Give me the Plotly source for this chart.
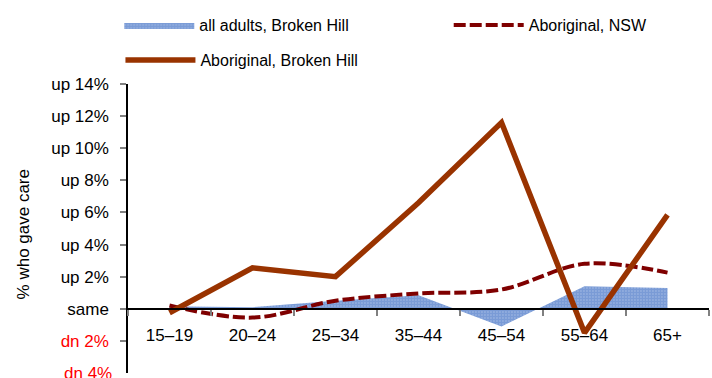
import plotly.graph_objects as go

age_groups = ["15–19", "20–24", "25–34", "35–44", "45–54", "55–64", "65+"]
all_adults_bh = [0.15, 0.1, 0.5, 0.85, -1.1, 1.4, 1.3]
aboriginal_nsw = [0.2, -0.55, 0.5, 0.95, 1.2, 2.8, 2.25]
aboriginal_bh = [-0.25, 2.55, 2.0, 6.6, 11.6, -1.5, 5.85]

tick_vals = [-4, -2, 0, 2, 4, 6, 8, 10, 12, 14]
tick_text = ["dn 4%", "dn 2%", "same", "up 2%", "up 4%", "up 6%", "up 8%", "up 10%", "up 12%", "up 14%"]
y_title = "% who gave care"

FONT = "Liberation Sans, Arial"
RED = "#FF0000"

# colour the "down" labels red
tick_labels = [f'<span style="color:{RED}">{t}</span>' if v < 0 else t
               for v, t in zip(tick_vals, tick_text)]

fig = go.Figure()
fig.add_trace(go.Scatter(
    x=age_groups, y=all_adults_bh, name="all adults, Broken Hill",
    mode="lines", line=dict(width=0, color="#4472C4"), fill="tozeroy",
    fillcolor="rgba(0,0,0,0)",
    fillpattern=dict(shape=".", fgcolor="#3F6DC2", bgcolor="#B5C8EA", size=3, solidity=0.8),
    legend="legend",
))
fig.add_trace(go.Scatter(
    x=age_groups, y=aboriginal_nsw, name="Aboriginal, NSW",
    mode="lines", line=dict(color="#7F0000", width=4, dash="12px,4px", shape="spline"),
    legend="legend2",
))
fig.add_trace(go.Scatter(
    x=age_groups, y=aboriginal_bh, name="Aboriginal, Broken Hill",
    mode="lines", line=dict(color="#993300", width=5.5),
    legend="legend3",
))

leg_common = dict(font=dict(family=FONT, size=16, color="#000000"), bgcolor="rgba(0,0,0,0)",
                  xref="paper", yref="container", yanchor="middle", xanchor="left",
                  itemwidth=70, borderwidth=0)

fig.update_layout(
    width=712, height=378,
    margin=dict(l=128, r=3, t=84, b=5, autoexpand=False),
    paper_bgcolor="white", plot_bgcolor="white",
    font=dict(family=FONT, size=17, color="#000000"),
    showlegend=True,
    legend=dict(x=-0.015, y=1 - 25 / 378, **leg_common),
    legend2=dict(x=0.552, y=1 - 25 / 378, **leg_common),
    legend3=dict(x=-0.013, y=1 - 60 / 378, **leg_common),
    xaxis=dict(
        type="category", range=[-0.5, 6.5], anchor="free", position=4 / 18,
        showline=True, linecolor="#000000", linewidth=1.5, automargin=False,
        ticks="outside", tickson="boundaries", ticklen=6, tickcolor="#808080", tickwidth=1.5,
        showgrid=False, zeroline=False, tickfont=dict(family=FONT, size=17),
        ticklabelstandoff=11,
    ),
    yaxis=dict(
        range=[-4, 14], tickvals=tick_vals[1:], ticktext=tick_labels[1:], automargin=False,
        showline=True, linecolor="#000000", linewidth=1.5,
        ticks="outside", ticklen=6, tickcolor="#808080", tickwidth=1.5,
        showgrid=False, zeroline=False, tickfont=dict(family=FONT, size=17),
        ticklabelstandoff=8,
    ),
    annotations=[
        # bottom tick label sits on the lower edge of the page, so it is placed by hand
        dict(text=tick_labels[0], xref="paper", x=0, xanchor="right", xshift=-14,
             yref="y", y=tick_vals[0], yanchor="middle", showarrow=False,
             font=dict(family=FONT, size=17)),
        dict(text=y_title, textangle=-90, xref="paper", x=0, xshift=-116,
             yref="y", y=4.6, showarrow=False, font=dict(family=FONT, size=17)),
    ],
)

fig.write_html("out.html")
